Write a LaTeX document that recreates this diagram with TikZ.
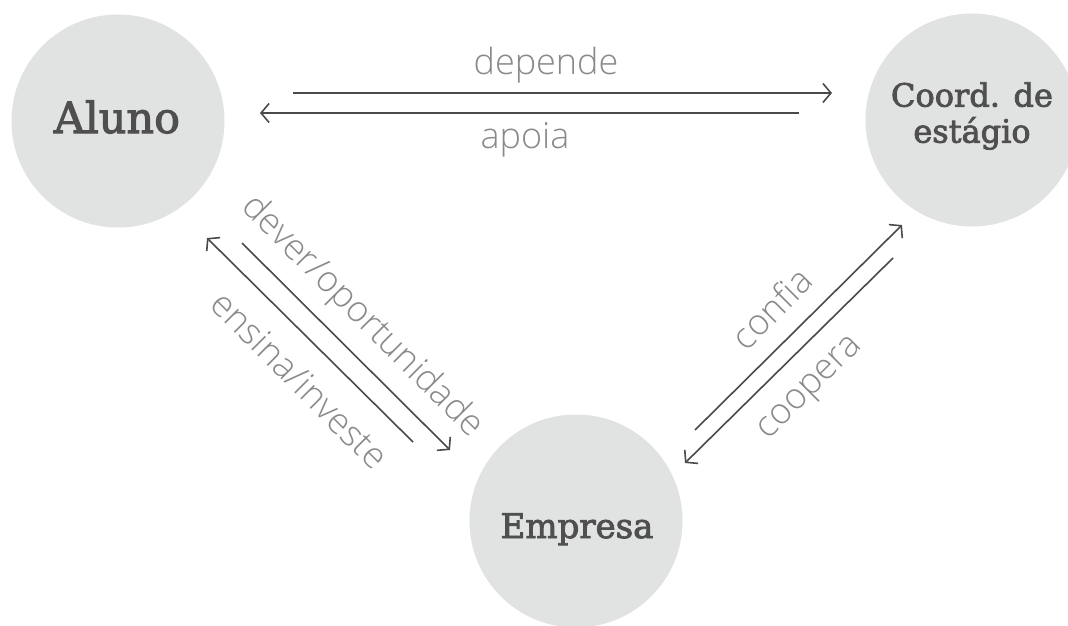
\documentclass[tikz,border=0pt]{standalone}
\usepackage{fontspec}
\usetikzlibrary{arrows.meta}
\newfontfamily\slabfont[FakeBold=2.5]{DejaVu Serif}
\newfontfamily\thinfont{Open Sans Light}
\definecolor{circfill}{HTML}{E1E2E2}
\definecolor{circtext}{HTML}{4F4F4F}
\definecolor{arrowcol}{HTML}{4A4A4A}
\definecolor{labelcol}{HTML}{8A8A8A}
\begin{document}
\begin{tikzpicture}[x=1pt,y=-1pt,
  party/.style={circle, fill=circfill, minimum size=213pt, inner sep=0pt},
  partytext/.style={text=circtext, align=center, inner sep=0pt},
  rel/.style={draw=arrowcol, line width=1.6pt, -{Straight Barb[length=8pt,width=19pt,line width=1.6pt]}},
  rellabel/.style={text=labelcol, font=\thinfont\fontsize{36}{40}\selectfont, inner sep=0pt}]
\useasboundingbox[fill=white] (0,0) rectangle (1068,626);
% circles
\node[party] (aluno) at (118,121) {};
\node[party] (coord) at (972,120) {};
\node[party] (empresa) at (576,521) {};
% circle texts
\node[partytext, font=\slabfont\fontsize{43}{48}\selectfont, anchor=base] (alunoT) at (117,133) {Aluno};
\node[partytext, font=\slabfont\fontsize{32}{36}\selectfont] (coordT) at (972,116) {Coord. de\\est\'agio};
\node[partytext, font=\slabfont\fontsize{34}{38}\selectfont, anchor=base] (empresaT) at (577,538) {Empresa};
% connector end points
\coordinate (dS) at (293,93);  \coordinate (dE) at (832,93);
\coordinate (aS) at (799,113); \coordinate (aE) at (260,113);
\coordinate (vS) at (242,243); \coordinate (vE) at (450,450);
\coordinate (eS) at (413,442); \coordinate (eE) at (207,238);
\coordinate (cS) at (695,430); \coordinate (cE) at (902,225);
\coordinate (oS) at (893,258); \coordinate (oE) at (685,463);
% connectors
\draw[rel] (dS) -- (dE);
\draw[rel] (aS) -- (aE);
\draw[rel] (vS) -- (vE);
\draw[rel] (eS) -- (eE);
\draw[rel] (cS) -- (cE);
\draw[rel] (oS) -- (oE);
% labels
\node[rellabel] (lDep) at (546,65) {depende};
\node[rellabel] (lApo) at (525,140) {apoia};
\node[rellabel, rotate=-45] (lDev) at (362,317) {dever/oportunidade};
\node[rellabel, rotate=-45] (lEns) at (300,380) {ensina/investe};
\node[rellabel, rotate=45] (lCon) at (771,308) {confia};
\node[rellabel, rotate=45] (lCoo) at (812,390) {coopera};
\end{tikzpicture}
\end{document}
